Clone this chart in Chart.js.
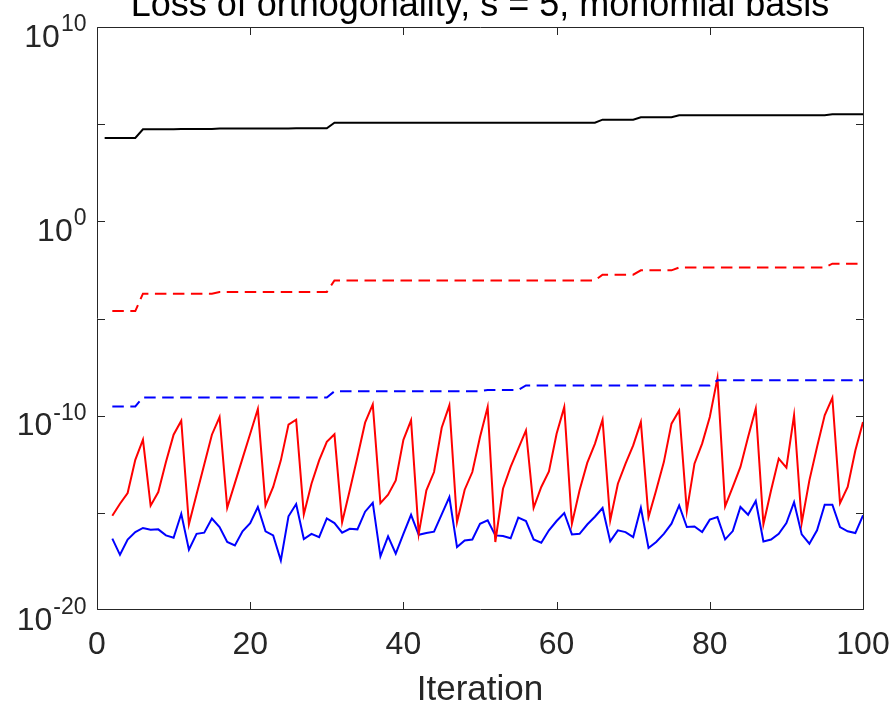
<!DOCTYPE html>
<html>
<head>
<meta charset="utf-8">
<script src="https://cdn.jsdelivr.net/npm/chart.js@4/dist/chart.umd.min.js"></script>
<style>
html,body{margin:0;padding:0;background:#fff;overflow:hidden}
#wrap{position:relative;width:895px;height:708px}
</style>
</head>
<body>
<div id="wrap"><canvas id="c" width="895" height="708"></canvas></div>
<script>
// ---------- data ----------
const chartTitle = 'Loss of orthogonality, s = 5, monomial basis';
const xAxisTitle = 'Iteration';
const xTickValues = [0, 20, 40, 60, 80, 100];
const yLabelExponents = [10, 0, -10, -20];
const yTickExponents = [10, 5, 0, -5, -10, -15, -20];

const iterations = [1,2,3,4,5,6,7,8,9,10,11,12,13,14,15,16,17,18,19,20,
  21,22,23,24,25,26,27,28,29,30,31,32,33,34,35,36,37,38,39,40,
  41,42,43,44,45,46,47,48,49,50,51,52,53,54,55,56,57,58,59,60,
  61,62,63,64,65,66,67,68,69,70,71,72,73,74,75,76,77,78,79,80,
  81,82,83,84,85,86,87,88,89,90,91,92,93,94,95,96,97,98,99,100];

// black solid, iterations 1..100
const blackValues = [
  1.95e4,1.95e4,1.95e4,1.95e4,1.95e4, 5.4e4,5.4e4,5.4e4,5.4e4,5.4e4,
  5.6e4,5.6e4,5.6e4,5.6e4,5.6e4, 5.9e4,5.9e4,5.9e4,5.9e4,5.9e4,
  6.0e4,6.0e4,6.0e4,6.0e4,6.0e4, 6.2e4,6.2e4,6.2e4,6.2e4,6.2e4,
  1.2e5,1.2e5,1.2e5,1.2e5,1.2e5, 1.2e5,1.2e5,1.2e5,1.2e5,1.2e5,
  1.2e5,1.2e5,1.2e5,1.2e5,1.2e5, 1.2e5,1.2e5,1.2e5,1.2e5,1.2e5,
  1.2e5,1.2e5,1.2e5,1.2e5,1.2e5, 1.2e5,1.2e5,1.2e5,1.2e5,1.2e5,
  1.2e5,1.2e5,1.2e5,1.2e5,1.2e5, 1.7e5,1.7e5,1.7e5,1.7e5,1.7e5,
  2.25e5,2.25e5,2.25e5,2.25e5,2.25e5, 2.9e5,2.9e5,2.9e5,2.9e5,2.9e5,
  2.9e5,2.9e5,2.9e5,2.9e5,2.9e5, 2.9e5,2.9e5,2.9e5,2.9e5,2.9e5,
  2.9e5,2.9e5,2.9e5,2.9e5,2.9e5, 3.2e5,3.2e5,3.2e5,3.2e5,3.2e5];

// red dashed, iterations 2..100
const redDashedValues = [
  2.4e-5,2.4e-5,2.4e-5,2.4e-5,
  1.9e-4,1.9e-4,1.9e-4,1.9e-4,1.9e-4,1.9e-4,1.9e-4,1.9e-4,1.9e-4,1.9e-4,
  2.3e-4,2.3e-4,2.3e-4,2.3e-4,2.3e-4,2.3e-4,2.3e-4,2.3e-4,2.3e-4,2.3e-4,2.3e-4,2.3e-4,2.3e-4,2.3e-4,2.3e-4,
  9.1e-4,9.1e-4,9.1e-4,9.1e-4,9.1e-4,9.1e-4,9.1e-4,9.1e-4,9.1e-4,9.1e-4,
  9.1e-4,9.1e-4,9.1e-4,9.1e-4,9.1e-4,9.1e-4,9.1e-4,9.1e-4,9.1e-4,9.1e-4,
  9.1e-4,9.1e-4,9.1e-4,9.1e-4,9.1e-4,9.1e-4,9.1e-4,9.1e-4,9.1e-4,9.1e-4,
  9.1e-4,9.1e-4,9.1e-4,9.1e-4,9.1e-4,
  1.8e-3,1.8e-3,1.8e-3,1.8e-3,1.8e-3,
  3.0e-3,3.0e-3,3.0e-3,3.0e-3,3.0e-3,
  4.2e-3,4.2e-3,4.2e-3,4.2e-3,4.2e-3,4.2e-3,4.2e-3,4.2e-3,4.2e-3,4.2e-3,
  4.2e-3,4.2e-3,4.2e-3,4.2e-3,4.2e-3,4.2e-3,4.2e-3,4.2e-3,4.2e-3,4.2e-3,
  6.6e-3,6.6e-3,6.6e-3,6.6e-3,6.6e-3];

// blue dashed, iterations 2..100
const blueDashedValues = [
  3.0e-10,3.0e-10,3.0e-10,3.0e-10,
  8.7e-10,8.7e-10,8.7e-10,8.7e-10,8.7e-10,8.7e-10,8.7e-10,8.7e-10,8.7e-10,8.7e-10,
  8.7e-10,8.7e-10,8.7e-10,8.7e-10,8.7e-10,8.7e-10,8.7e-10,8.7e-10,8.7e-10,8.7e-10,
  8.7e-10,8.7e-10,8.7e-10,8.7e-10,8.7e-10,
  1.8e-9,1.8e-9,1.8e-9,1.8e-9,1.8e-9,1.8e-9,1.8e-9,1.8e-9,1.8e-9,1.8e-9,
  1.8e-9,1.8e-9,1.8e-9,1.8e-9,1.8e-9,1.8e-9,1.8e-9,1.8e-9,1.8e-9,1.8e-9,
  2.1e-9,2.1e-9,2.1e-9,2.1e-9,2.1e-9,
  3.6e-9,3.6e-9,3.6e-9,3.6e-9,3.6e-9,3.6e-9,3.6e-9,3.6e-9,3.6e-9,3.6e-9,
  3.6e-9,3.6e-9,3.6e-9,3.6e-9,3.6e-9,3.6e-9,3.6e-9,3.6e-9,3.6e-9,3.6e-9,
  3.6e-9,3.6e-9,3.6e-9,3.6e-9,3.6e-9,
  6.6e-9,6.6e-9,6.6e-9,6.6e-9,6.6e-9,6.6e-9,6.6e-9,6.6e-9,6.6e-9,6.6e-9,
  6.6e-9,6.6e-9,6.6e-9,6.6e-9,6.6e-9,6.6e-9,6.6e-9,6.6e-9,6.6e-9,6.6e-9];

// red solid, iterations 2..100 (log10 of value)
const redSolidLog10 = [
  -15.15,-14.53,-13.98,-12.27,-11.24,-14.63,-13.93,-12.39,-10.98,
  -10.26,-15.59,-14.05,-12.51,-10.98,-10.07,-14.74,-13.47,-12.20,-10.93,
  -9.66,-14.62,-13.67,-12.30,-10.46,-10.21,-15.08,-13.50,-12.30,-11.35,
  -10.96,-15.49,-13.84,-12.13,-10.36,-9.42,-14.50,-14.07,-13.33,-11.24,
  -10.24,-16.08,-13.84,-12.90,-10.62,-9.47,-15.47,-13.81,-12.90,-11.10,
  -9.56,-16.50,-13.76,-12.64,-11.70,-10.76,-14.74,-13.67,-12.87,-10.93,
  -9.56,-15.56,-13.84,-12.43,-11.45,-10.21,-15.39,-13.50,-12.47,-11.53,
  -10.33,-15.22,-13.84,-12.39,-10.41,-9.73,-14.91,-12.47,-11.44,-10.07,
  -8.07,-14.67,-13.67,-12.64,-11.10,-9.64,-15.59,-13.84,-12.21,-12.68,
  -9.98,-15.51,-13.33,-11.61,-9.98,-9.08,-14.50,-13.67,-11.79,-10.33];

// blue solid, iterations 2..100 (log10 of value)
const blueSolidLog10 = [
  -16.33,-17.16,-16.38,-15.99,-15.78,-15.87,-15.85,-16.16,-16.28,
  -15.05,-16.90,-16.08,-16.02,-15.29,-15.73,-16.50,-16.68,-15.95,-15.53,
  -14.70,-15.95,-16.16,-17.45,-15.18,-14.55,-16.35,-16.08,-16.25,-15.29,
  -15.53,-16.02,-15.82,-15.85,-14.94,-14.48,-17.24,-16.21,-17.10,-16.08,
  -15.10,-16.13,-16.04,-15.97,-15.08,-14.19,-16.76,-16.42,-16.37,-15.56,
  -15.39,-16.16,-16.19,-16.31,-15.25,-15.42,-16.37,-16.54,-15.90,-15.42,
  -15.01,-16.11,-16.08,-15.60,-15.20,-14.75,-16.47,-15.90,-15.99,-16.25,
  -14.74,-16.81,-16.50,-16.08,-15.56,-14.62,-15.73,-15.70,-15.99,-15.35,
  -15.22,-16.37,-15.94,-14.70,-15.10,-14.39,-16.47,-16.37,-16.08,-15.53,
  -14.45,-16.11,-16.59,-15.90,-14.58,-14.58,-15.73,-15.95,-16.04,-15.13];

// ---------- build ----------
const axisColor = '#262626';
const fontFam = "'Liberation Sans', Arial, Helvetica, sans-serif";
const pts = (xs, ys) => ys.map((v, i) => ({x: xs[i], y: v}));
const fromLog = arr => arr.map(v => Math.pow(10, v));
const it2 = iterations.slice(1);

const matlabAxes = {
  id: 'matlabAxes',
  afterDatasetsDraw(chart) {
    const {ctx, chartArea: a, scales: {x, y}} = chart;
    const L = a.left + 0.5, R = a.right + 0.5, T = a.top + 0.5, B = a.bottom - 0.5;
    const TL = 7.5;
    ctx.save();
    ctx.strokeStyle = axisColor;
    ctx.lineWidth = 1;
    ctx.beginPath();
    ctx.rect(L, T, R - L, B - T);
    xTickValues.forEach(v => {
      const px = Math.round(x.getPixelForValue(v)) + 0.5;
      ctx.moveTo(px, B); ctx.lineTo(px, B - TL);
      ctx.moveTo(px, T); ctx.lineTo(px, T + TL);
    });
    yTickExponents.forEach(e => {
      let py = Math.round(y.getPixelForValue(Math.pow(10, e))) + 0.5;
      py = Math.min(Math.max(py, T), B);
      ctx.moveTo(L, py); ctx.lineTo(L + TL, py);
      ctx.moveTo(R, py); ctx.lineTo(R - TL, py);
    });
    ctx.stroke();

    // y tick labels: 10 with superscript exponent
    ctx.fillStyle = axisColor;
    ctx.textAlign = 'right';
    ctx.textBaseline = 'alphabetic';
    const expRight = 86.5;
    yLabelExponents.forEach(e => {
      const py = y.getPixelForValue(Math.pow(10, e));
      const expTxt = String(e);
      ctx.font = '23px ' + fontFam;
      const ew = ctx.measureText(expTxt).width;
      ctx.fillText(expTxt, expRight, py + 4);
      ctx.font = '32px ' + fontFam;
      ctx.fillText('10', expRight - ew - 1, py + 19.5);
    });

    // title (partly cut at the top, as in the reference)
    ctx.textAlign = 'center';
    ctx.font = '36px ' + fontFam;
    ctx.fillStyle = '#000000';
    ctx.fillText(chartTitle, (a.left + a.right) / 2, 16);
    ctx.restore();
  }
};

new Chart(document.getElementById('c'), {
  type: 'line',
  data: {
    datasets: [
      {label: 'black', data: pts(iterations, blackValues), borderColor: '#000000', borderWidth: 2},
      {label: 'red dashed', data: pts(it2, redDashedValues), borderColor: '#ff0000', borderWidth: 2, borderDash: [11.5, 6.5]},
      {label: 'blue dashed', data: pts(it2, blueDashedValues), borderColor: '#0000ff', borderWidth: 2, borderDash: [11.5, 6.5]},
      {label: 'red', data: pts(it2, fromLog(redSolidLog10)), borderColor: '#ff0000', borderWidth: 2},
      {label: 'blue', data: pts(it2, fromLog(blueSolidLog10)), borderColor: '#0000ff', borderWidth: 2}
    ]
  },
  options: {
    responsive: false,
    animation: false,
    devicePixelRatio: 1,
    layout: {padding: {left: 0, right: 32, top: 27, bottom: 0}},
    elements: {
      point: {radius: 0, hoverRadius: 0},
      line: {tension: 0, fill: false, borderCapStyle: 'butt', borderJoinStyle: 'miter'}
    },
    plugins: {legend: {display: false}, tooltip: {enabled: false}, title: {display: false}},
    scales: {
      x: {
        type: 'linear', min: 0, max: 100,
        grid: {display: false, drawTicks: false},
        border: {display: false},
        ticks: {stepSize: 20, autoSkip: false, maxRotation: 0, padding: 16,
                color: axisColor, font: {family: fontFam, size: 32}},
        title: {display: true, text: xAxisTitle, color: axisColor,
                font: {family: fontFam, size: 35, lineHeight: 1}, padding: {top: 0, bottom: 0}},
        afterFit(s) { s.height = 98; s.paddingLeft = 0; s.paddingRight = 0; }
      },
      y: {
        type: 'logarithmic', min: 1e-20, max: 1e10,
        grid: {display: false, drawTicks: false},
        border: {display: false},
        ticks: {display: false},
        afterFit(s) { s.width = 97; s.paddingTop = 0; s.paddingBottom = 0; }
      }
    }
  },
  plugins: [matlabAxes]
});
</script>
</body>
</html>
